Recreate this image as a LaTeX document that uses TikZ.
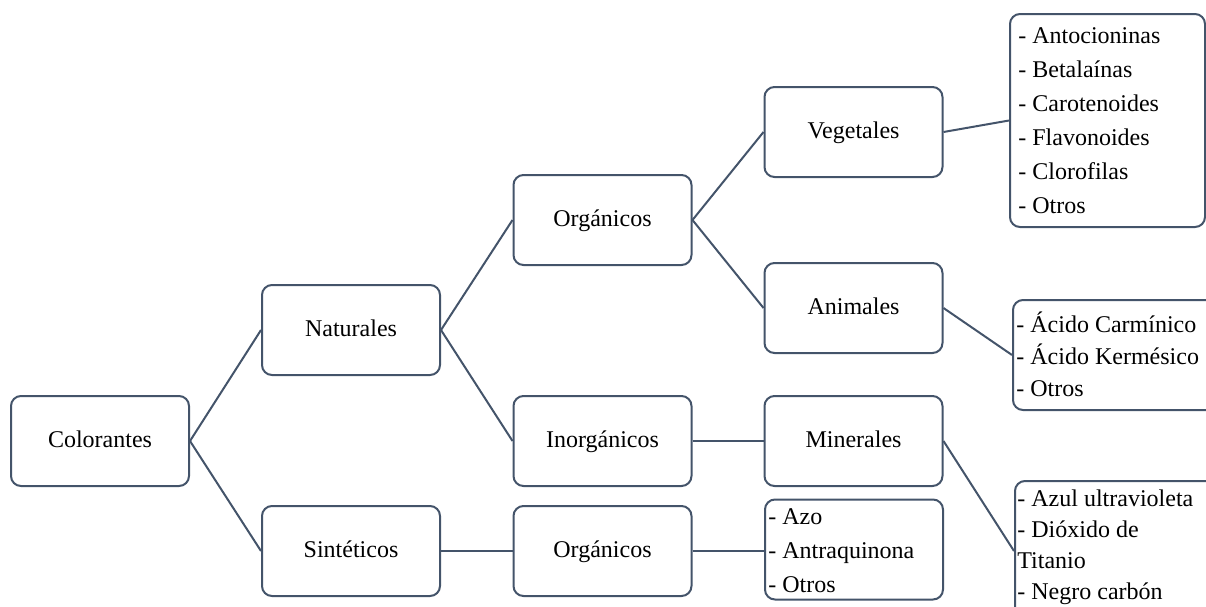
\documentclass[tikz,border=0pt]{standalone}
\usepackage{fontspec}
\setmainfont{Liberation Serif}
\definecolor{lc}{HTML}{44546A}
\begin{document}
\begin{tikzpicture}[x=0.5pt,y=-0.5pt,
  box/.style={draw=lc,line width=1pt,rounded corners=5pt,minimum width=89pt,minimum height=45pt,inner sep=0pt,text height=8.5pt,text depth=2.5pt,font=\fontsize{12}{14}\selectfont,fill=white},
  lbox/.style={draw=lc,line width=1pt,rounded corners=5pt,inner sep=0pt,fill=white},
  ltext/.style={anchor=west,inner sep=0pt,align=left,font=\fontsize{12}{17}\selectfont},
  conn/.style={draw=lc,line width=1pt}]
\useasboundingbox (0,0) rectangle (1206,606);
\clip (0,0) rectangle (1206,606);
\node[box] (col) at (100,441) {Colorantes};
\node[box] (nat) at (351,330) {Naturales};
\node[box] (sin) at (351,551) {Sintéticos};
\node[box] (org1) at (602.5,220) {Orgánicos};
\node[box] (inorg) at (602.5,441) {Inorgánicos};
\node[box] (org2) at (602.5,551) {Orgánicos};
\node[box] (veg) at (853.5,132) {Vegetales};
\node[box] (ani) at (853.5,308) {Animales};
\node[box] (min) at (853.5,441) {Minerales};
% list boxes
\node[lbox,minimum width=97.5pt,minimum height=106.5pt] (l1) at (1107.5,120.5) {};
\node[ltext] (t1) at (1018,121) {- Antocioninas\\- Betalaínas\\- Carotenoides\\- Flavonoides\\- Clorofilas\\- Otros};
\node[lbox,minimum width=110pt,minimum height=55pt] (l2) at (1123,355) {};
\node[ltext,font=\fontsize{12}{16}\selectfont] (t2) at (1016,354) {- Ácido Carmínico\\- Ácido Kermésico\\- Otros};
\node[lbox,minimum width=110pt,minimum height=70pt] (l3) at (1125,551) {};
\node[ltext,font=\fontsize{12}{15.5}\selectfont] (t3) at (1017,547) {- Azul ultravioleta\\- Dióxido de\\Titanio\\- Negro carbón};
\node[lbox,minimum width=89pt,minimum height=50pt] (l4) at (854,549.5) {};
\node[ltext] (t4) at (768,551) {- Azo\\- Antraquinona\\- Otros};
% connectors
\draw[conn] (col.east) -- (nat.west);
\draw[conn] (col.east) -- (sin.west);
\draw[conn] (nat.east) -- (org1.west);
\draw[conn] (nat.east) -- (inorg.west);
\draw[conn] (sin.east) -- (org2.west);
\draw[conn] (org1.east) -- (veg.west);
\draw[conn] (org1.east) -- (ani.west);
\draw[conn] (inorg.east) -- (min.west);
\draw[conn] (org2.east) -- (org2.east -| l4.west);
\draw[conn] (veg.east) -- (l1.west);
\draw[conn] (ani.east) -- (l2.west);
\draw[conn] (min.east) -- (l3.west);
\end{tikzpicture}
\end{document}
